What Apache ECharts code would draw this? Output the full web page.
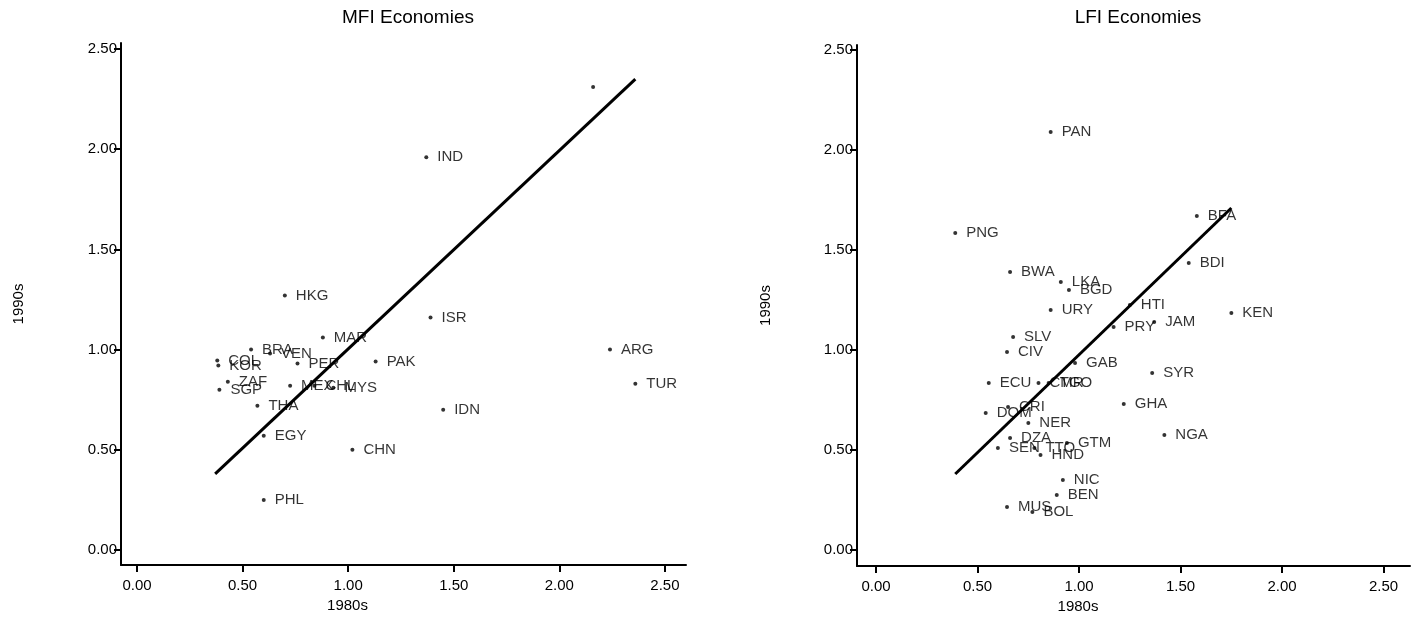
<!DOCTYPE html>
<html>
<head>
<meta charset="utf-8">
<title>MFI / LFI Economies</title>
<script src="https://cdn.jsdelivr.net/npm/echarts@6/dist/echarts.min.js"></script>
<style>
  html, body { margin: 0; padding: 0; background: #fff; }
  #chart { width: 1420px; height: 620px; }
</style>
</head>
<body>
<div id="chart"></div>
<script>
// tick values shared by both panels
const tickValues = [0, 0.5, 1, 1.5, 2, 2.5]

// MFI economies: 1980s vs 1990s
const mfiCodes = ['', 'IND', 'ISR', 'PAK', 'ARG', 'TUR', 'IDN', 'CHN', 'MAR', 'BRA', 'COL', 'KOR',
  'VEN', 'PER', 'ZAF', 'SGP', 'MEX', 'CHL', 'MYS', 'THA', 'EGY', 'HKG', 'PHL']
const mfi80s = [2.16, 1.37, 1.39, 1.13, 2.24, 2.36, 1.45, 1.02, 0.88, 0.54, 0.38, 0.385,
  0.63, 0.76, 0.43, 0.39, 0.725, 0.84, 0.93, 0.57, 0.6, 0.70, 0.6]
const mfi90s = [2.31, 1.96, 1.16, 0.94, 1.0, 0.83, 0.70, 0.50, 1.06, 1.0, 0.945, 0.92,
  0.98, 0.93, 0.84, 0.80, 0.82, 0.82, 0.81, 0.72, 0.57, 1.27, 0.25]
const mfiLine = [[0.37, 0.38], [2.36, 2.35]]

// LFI economies: 1980s vs 1990s
const lfiCodes = ['PAN', 'PNG', 'BFA', 'BDI', 'BWA', 'LKA', 'BGD', 'URY', 'HTI', 'PRY', 'JAM', 'KEN',
  'SLV', 'CIV', 'GAB', 'SYR', 'ECU', 'CMR', 'TGO', 'GHA', 'CRI', 'DOM', 'NER', 'NGA', 'DZA', 'SEN',
  'TTO', 'HND', 'GTM', 'NIC', 'BEN', 'MUS', 'BOL']
const lfi80s = [0.86, 0.39, 1.58, 1.54, 0.66, 0.91, 0.95, 0.86, 1.25, 1.17, 1.37, 1.75,
  0.675, 0.645, 0.98, 1.36, 0.555, 0.80, 0.85, 1.22, 0.65, 0.54, 0.75, 1.42, 0.66, 0.60,
  0.78, 0.81, 0.94, 0.92, 0.89, 0.645, 0.77]
const lfi90s = [2.09, 1.585, 1.67, 1.435, 1.39, 1.34, 1.30, 1.20, 1.225, 1.115, 1.14, 1.185,
  1.065, 0.99, 0.935, 0.885, 0.835, 0.835, 0.835, 0.73, 0.715, 0.685, 0.635, 0.575, 0.56, 0.51,
  0.51, 0.475, 0.535, 0.35, 0.275, 0.215, 0.19]
const lfiLine = [[0.39, 0.38], [1.75, 1.71]]

const toPoints = (codes, xs, ys) => codes.map((c, i) => [xs[i], ys[i], c])

const font = 'Liberation Sans, Arial, sans-serif'

const xAxisCfg = (min, max, shift) => ({
  type: 'value',
  min: min,
  max: max,
  name: '1980s',
  nameLocation: 'middle',
  nameGap: 30,
  nameTextStyle: { color: '#000', fontSize: 15, fontFamily: font, padding: [0, shift, 0, 0] },
  axisLine: { onZero: false, lineStyle: { color: '#000', width: 2 } },
  axisTick: { customValues: tickValues, length: 7, lineStyle: { color: '#000', width: 2 } },
  axisLabel: {
    customValues: tickValues,
    margin: 13,
    color: '#000',
    fontSize: 15,
    fontFamily: font,
    formatter: v => v.toFixed(2)
  },
  splitLine: { show: false }
})

const yAxisCfg = (min, max, gap) => ({
  type: 'value',
  min: min,
  max: max,
  name: '1990s',
  nameLocation: 'middle',
  nameGap: gap,
  nameRotate: 90,
  nameTextStyle: { color: '#000', fontSize: 15, fontFamily: font },
  axisLine: { onZero: false, lineStyle: { color: '#000', width: 2 } },
  axisTick: { customValues: tickValues, length: 7, lineStyle: { color: '#000', width: 2 } },
  axisLabel: {
    customValues: tickValues,
    margin: 4,
    color: '#000',
    fontSize: 15,
    fontFamily: font,
    formatter: v => v.toFixed(2)
  },
  splitLine: { show: false }
})

const scatterCfg = (idx, points) => ({
  type: 'scatter',
  xAxisIndex: idx,
  yAxisIndex: idx,
  data: points,
  symbol: 'circle',
  symbolSize: 4,
  itemStyle: { color: '#000' },
  label: {
    show: true,
    position: 'right',
    distance: 9,
    color: '#000',
    fontSize: 15,
    fontFamily: font,
    formatter: p => p.data[2]
  },
  labelLayout: { hideOverlap: false }
})

const lineCfg = (idx, pts) => ({
  type: 'line',
  xAxisIndex: idx,
  yAxisIndex: idx,
  data: pts,
  symbol: 'none',
  lineStyle: { color: '#000', width: 3 },
  z: 3
})

const myChart = echarts.init(document.getElementById('chart'))
myChart.setOption({
  animation: false,
  backgroundColor: '#fff',
  title: [
    {
      text: 'MFI Economies',
      left: 403,
      top: 3,
      textAlign: 'center',
      textStyle: { color: '#000', fontSize: 19, fontWeight: 'normal', fontFamily: font }
    },
    {
      text: 'LFI Economies',
      left: 1133,
      top: 3,
      textAlign: 'center',
      textStyle: { color: '#000', fontSize: 19, fontWeight: 'normal', fontFamily: font }
    }
  ],
  grid: [
    { left: 121, top: 43, width: 565, height: 522 },
    { left: 857, top: 45, width: 553, height: 521 }
  ],
  xAxis: [
    Object.assign(xAxisCfg(-0.076, 2.6, 112), { gridIndex: 0 }),
    Object.assign(xAxisCfg(-0.094, 2.63, 111), { gridIndex: 1 })
  ],
  yAxis: [
    Object.assign(yAxisCfg(-0.075, 2.53, 95), { gridIndex: 0 }),
    Object.assign(yAxisCfg(-0.08, 2.525, 84), { gridIndex: 1 })
  ],
  series: [
    scatterCfg(0, toPoints(mfiCodes, mfi80s, mfi90s)),
    lineCfg(0, mfiLine),
    scatterCfg(1, toPoints(lfiCodes, lfi80s, lfi90s)),
    lineCfg(1, lfiLine)
  ]
})
</script>
</body>
</html>
